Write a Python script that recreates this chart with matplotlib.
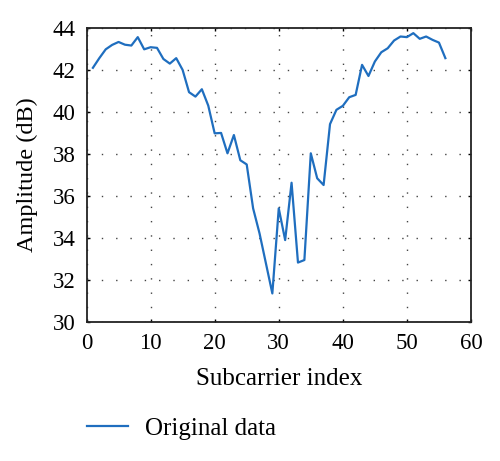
import matplotlib
matplotlib.use('Agg')
import matplotlib.pyplot as plt

# subcarrier index and measured amplitude (dB)
subcarrier = list(range(1, 57))
amplitude = [42.1, 42.56, 42.98, 43.19, 43.33, 43.2, 43.16, 43.56, 42.98, 43.08,
             43.05, 42.52, 42.3, 42.56, 42.0, 40.94, 40.73, 41.08, 40.3, 38.98,
             39.0, 38.03, 38.9, 37.7, 37.5, 35.41, 34.22, 32.79, 31.36, 35.41,
             33.9, 36.63, 32.83, 32.95, 38.03, 36.84, 36.52, 39.42, 40.1, 40.29,
             40.7, 40.81, 42.24, 41.71, 42.4, 42.84, 43.03, 43.4, 43.59, 43.56,
             43.75, 43.48, 43.59, 43.43, 43.3, 42.56]

xticks = [0, 10, 20, 30, 40, 50, 60]
yticks = [30, 32, 34, 36, 38, 40, 42, 44]

plt.rcParams['font.family'] = ['Liberation Serif', 'DejaVu Serif']

fig = plt.figure(figsize=(5.0, 4.61), dpi=100)
ax = fig.add_axes([0.173, 0.3015, 0.769, 0.638])

line, = ax.plot(subcarrier, amplitude, color='#1f6ebf', linewidth=1.6, label='Original data')

ax.set_xlim(0, 60)
ax.set_ylim(30, 44)
ax.set_xticks(xticks)
ax.set_yticks(yticks)
ax.grid(True, color='#444444', linestyle=(0, (1, 9.3)), linewidth=1.0)
ax.tick_params(direction='in', length=2.5, width=1.0, labelsize=16.5, pad=8,
               top=True, right=True)
for s in ax.spines.values():
	s.set_linewidth(1.3)
	s.set_color('#222222')

ax.set_xlabel('Subcarrier index', fontsize=18)
ax.set_ylabel('Amplitude (dB)', fontsize=17.5)
ax.xaxis.set_label_coords(0.5, -0.155)
ax.yaxis.set_label_coords(-0.126, 0.5)

fig.legend(handles=[line], loc='center left', bbox_to_anchor=(0.129, 0.07),
           frameon=False, fontsize=18, handlelength=1.64, handletextpad=0.68)

fig.savefig('out.png', dpi=100)
